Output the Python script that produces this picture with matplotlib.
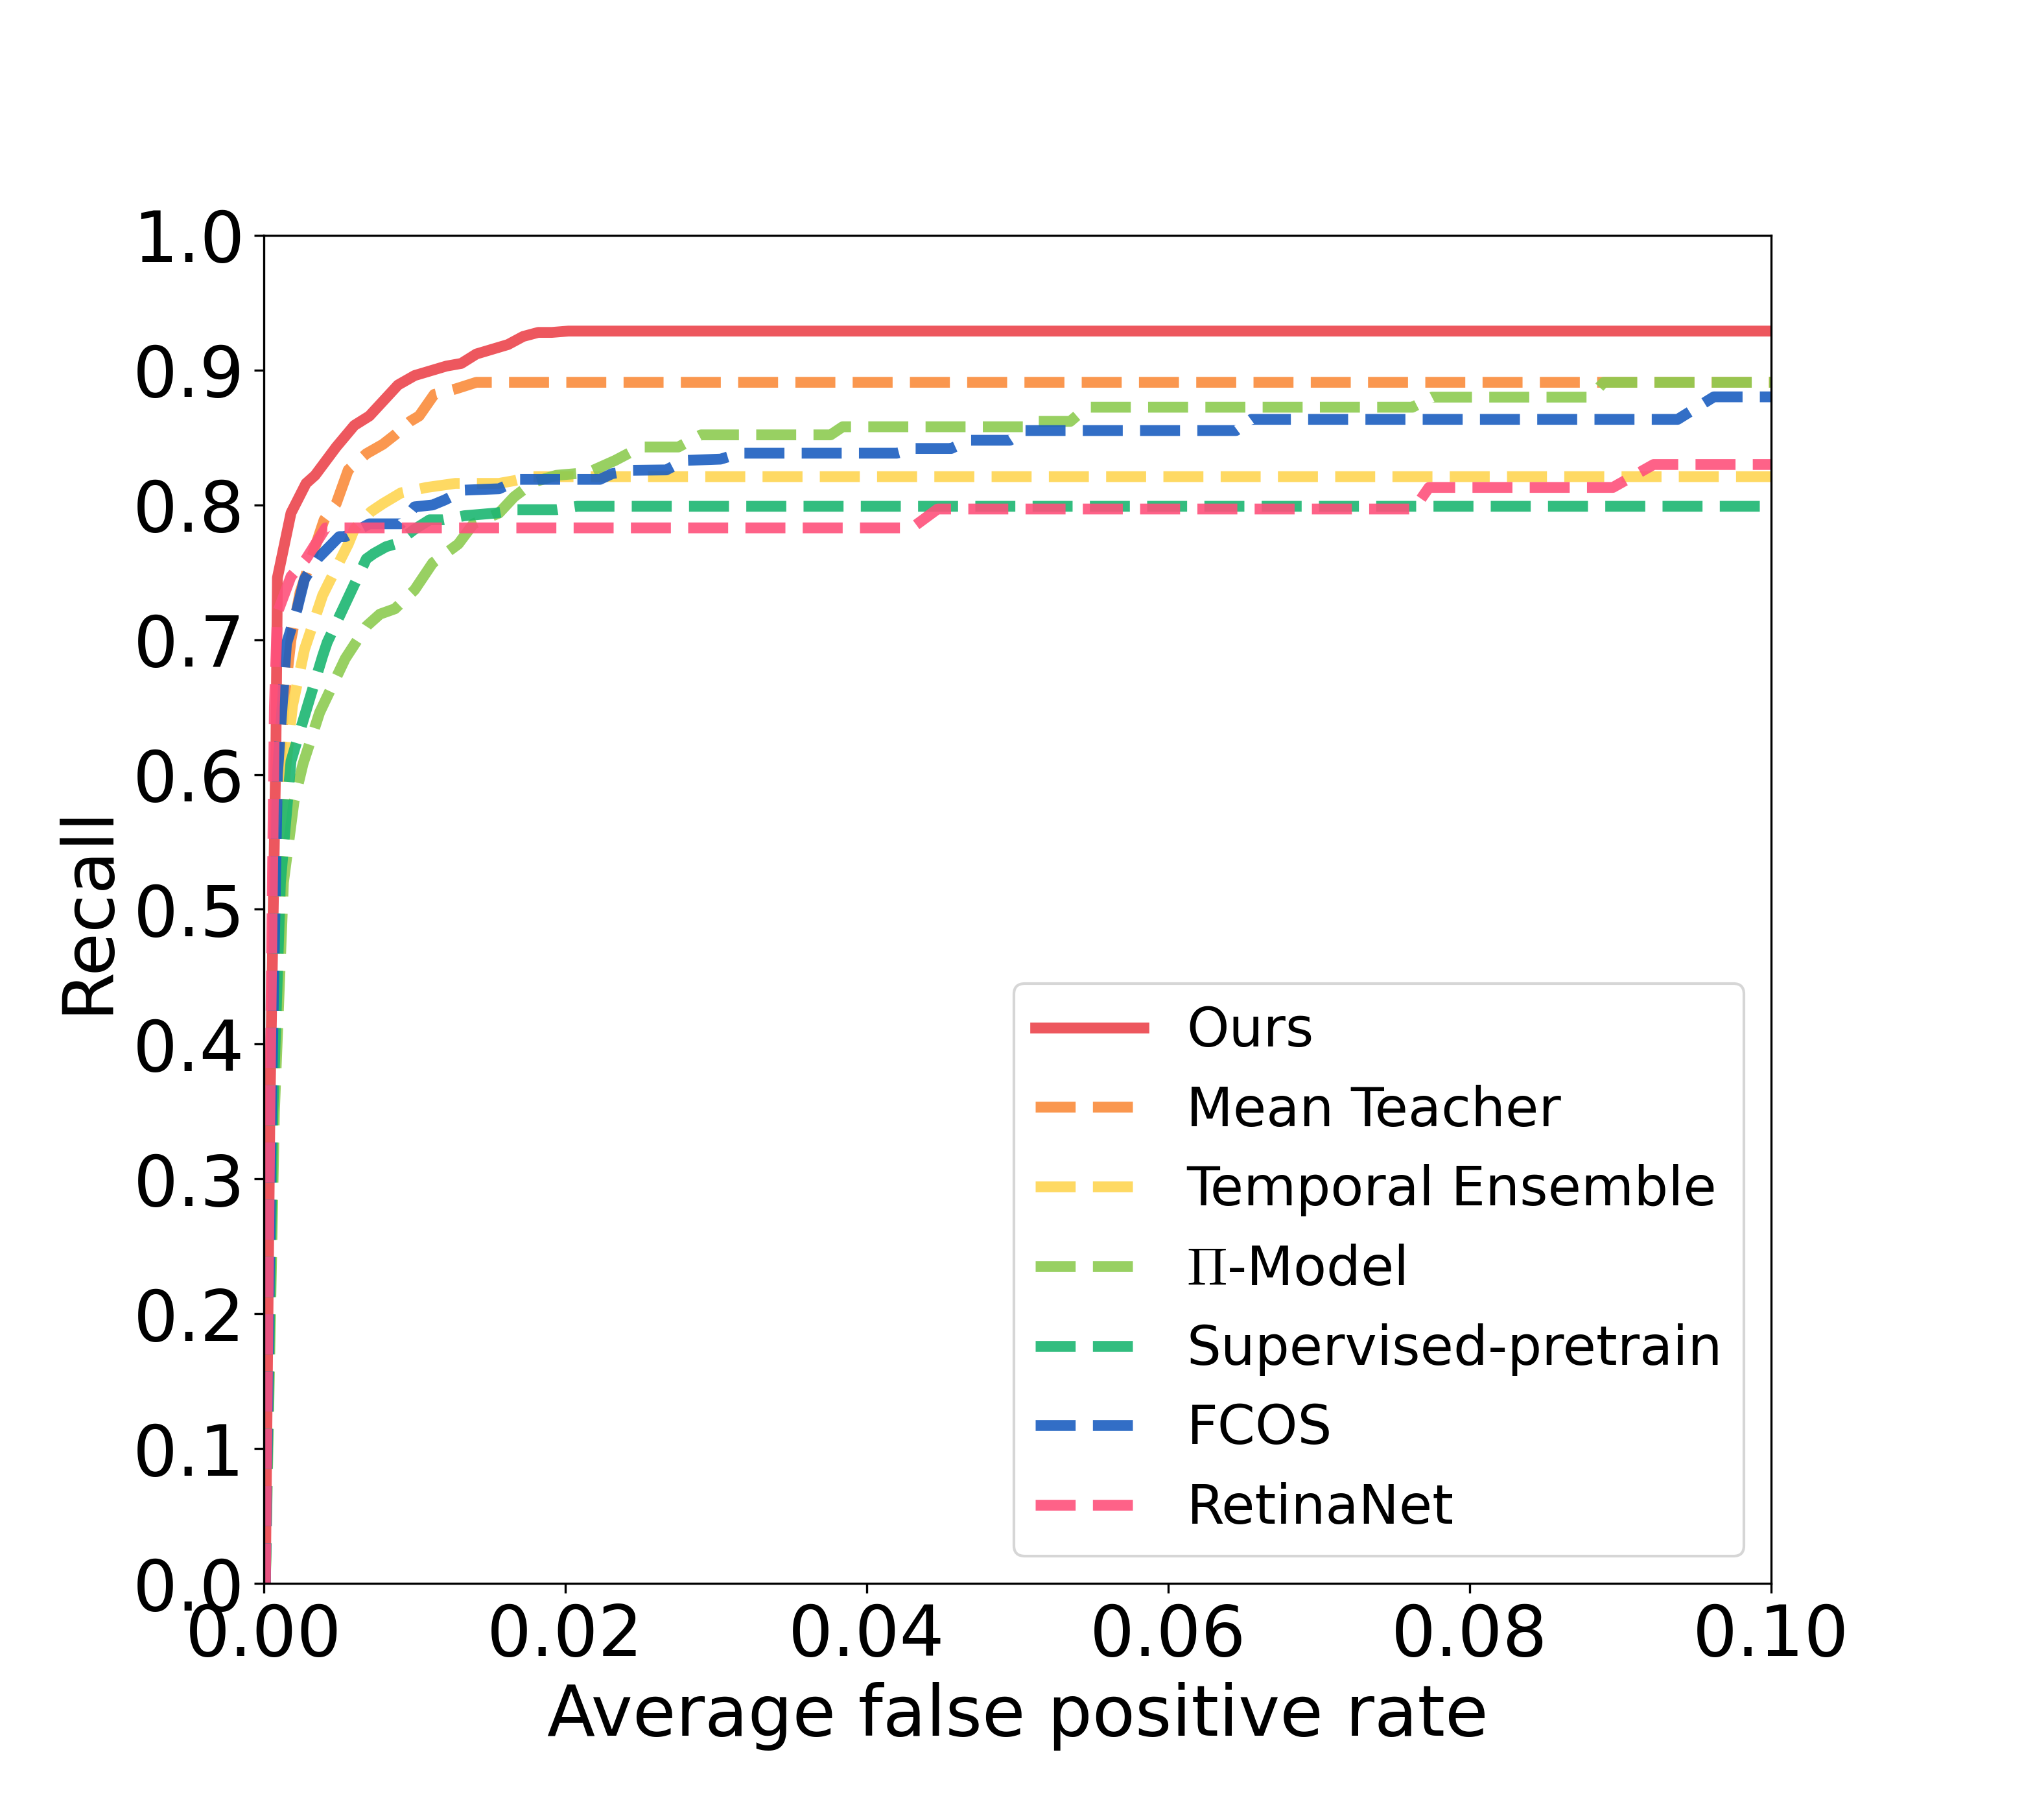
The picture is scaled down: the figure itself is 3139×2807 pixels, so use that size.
import matplotlib
matplotlib.use("Agg")
import matplotlib.pyplot as plt

plt.rcParams['mathtext.fontset'] = 'cm'
plt.rcParams['font.family'] = ['DejaVu Sans']

# ---------------- data ----------------
ours_x = [0.0001, 0.0004, 0.0008, 0.0009, 0.0018, 0.0028, 0.0034, 0.0048, 0.0060, 0.0070,
          0.0089, 0.0100, 0.0121, 0.0131, 0.0141, 0.0162, 0.0172, 0.0182, 0.0191, 0.0202, 0.1]
ours_y = [0.0, 0.35, 0.62, 0.746, 0.794, 0.816, 0.822, 0.843, 0.859, 0.866,
          0.889, 0.896, 0.903, 0.905, 0.912, 0.919, 0.925, 0.928, 0.928, 0.929, 0.929]

mt_x = [0.0001, 0.0005, 0.0010, 0.0014, 0.0018, 0.0024, 0.0037, 0.0040, 0.0048, 0.0056,
        0.0068, 0.0079, 0.0087, 0.0097, 0.0103, 0.0113, 0.0127, 0.0141, 0.1]
mt_y = [0.0, 0.35, 0.60, 0.66, 0.70, 0.735, 0.779, 0.789, 0.801, 0.826,
        0.838, 0.845, 0.852, 0.862, 0.866, 0.882, 0.886, 0.891, 0.891]

te_x = [0.0001, 0.0006, 0.0014, 0.0019, 0.0027, 0.0039, 0.0043, 0.0056, 0.0060, 0.0071,
        0.0079, 0.0091, 0.0108, 0.0127, 0.0156, 0.0166, 0.0177, 0.1]
te_y = [0.0, 0.35, 0.60, 0.651, 0.693, 0.733, 0.742, 0.771, 0.782, 0.795,
        0.801, 0.809, 0.813, 0.816, 0.816, 0.818, 0.821, 0.821]

pi_x = [0.0001, 0.0007, 0.0013, 0.0020, 0.0026, 0.0037, 0.0054, 0.0068, 0.0077, 0.0087,
        0.0100, 0.0112, 0.0129, 0.0139, 0.0156, 0.0166, 0.0179, 0.0194, 0.0215, 0.0233,
        0.0250, 0.0275, 0.0290, 0.0376, 0.0384, 0.0505, 0.0512, 0.0535, 0.0546, 0.0762,
        0.0775, 0.0880, 0.0889, 0.1]
pi_y = [0.0, 0.35, 0.52, 0.58, 0.608, 0.646, 0.686, 0.710, 0.719, 0.723,
        0.737, 0.757, 0.771, 0.786, 0.794, 0.806, 0.817, 0.822, 0.824, 0.833,
        0.843, 0.843, 0.852, 0.852, 0.858, 0.858, 0.862, 0.862, 0.8725, 0.8725,
        0.880, 0.880, 0.891, 0.891]

sp_x = [0.0001, 0.0006, 0.0011, 0.0018, 0.0029, 0.0039, 0.0042, 0.0055, 0.0068, 0.0073,
        0.0081, 0.0087, 0.0100, 0.0110, 0.0119, 0.0133, 0.0154, 0.0167, 0.0194, 0.0208, 0.1]
sp_y = [0.0, 0.35, 0.52, 0.610, 0.651, 0.688, 0.698, 0.729, 0.760, 0.764,
        0.769, 0.771, 0.782, 0.789, 0.789, 0.792, 0.794, 0.7965, 0.7965, 0.799, 0.799]

fcos_x = [0.0001, 0.0005, 0.0009, 0.0015, 0.0022, 0.0027, 0.0036, 0.0050, 0.0054, 0.0070,
          0.0091, 0.0100, 0.0112, 0.0120, 0.0133, 0.0156, 0.0170, 0.0223, 0.0231, 0.0244,
          0.0267, 0.0279, 0.0303, 0.0316, 0.0420, 0.0432, 0.0456, 0.0468, 0.0495, 0.0505,
          0.0645, 0.0655, 0.0938, 0.0962, 0.1]
fcos_y = [0.0, 0.35, 0.60, 0.697, 0.7225, 0.745, 0.7606, 0.7765, 0.7765, 0.786,
          0.786, 0.7986, 0.800, 0.8037, 0.811, 0.812, 0.819, 0.819, 0.8232, 0.8257,
          0.826, 0.833, 0.834, 0.8384, 0.8384, 0.8419, 0.8419, 0.848, 0.848, 0.8552,
          0.8552, 0.8635, 0.8635, 0.8802, 0.8802]

rn_x = [0.0001, 0.0004, 0.0007, 0.0009, 0.0018, 0.0028, 0.0041, 0.0430, 0.0447, 0.0763,
        0.0773, 0.0895, 0.0922, 0.1]
rn_y = [0.0, 0.35, 0.65, 0.72, 0.747, 0.760, 0.783, 0.783, 0.797, 0.797,
        0.813, 0.813, 0.830, 0.830]

labels = ['Ours', 'Mean Teacher', 'Temporal Ensemble', r'$\Pi$-Model',
          'Supervised-pretrain', 'FCOS', 'RetinaNet']
colors = ['#EC454C', '#FA8C3C', '#FED552', '#8DCB51', '#1CB671', '#1C5EC0', '#FE517B']
styles = ['-', '--', '--', '--', '--', '--', '--']
xticks = [0.00, 0.02, 0.04, 0.06, 0.08, 0.10]
yticks = [0.0, 0.1, 0.2, 0.3, 0.4, 0.5, 0.6, 0.7, 0.8, 0.9, 1.0]

series = [(ours_x, ours_y), (mt_x, mt_y), (te_x, te_y), (pi_x, pi_y),
          (sp_x, sp_y), (fcos_x, fcos_y), (rn_x, rn_y)]

# ---------------- plot ----------------
fig = plt.figure(figsize=(3139 / 300, 2807 / 300), dpi=300)
ax = fig.add_axes([407 / 3139, 1 - 2442 / 2807, (2732 - 407) / 3139, (2442 - 363) / 2807])

for (xs, ys), lab, col, ls in zip(series, labels, colors, styles):
    ax.plot(xs, ys, ls, color=col, lw=4, alpha=0.9, label=lab)

ax.set_xlim(0, 0.1)
ax.set_ylim(0, 1.0)
ax.set_xticks(xticks)
ax.set_xticklabels([f'{t:.2f}' for t in xticks])
ax.set_yticks(yticks)
ax.set_yticklabels([f'{t:.1f}' for t in yticks])
ax.tick_params(labelsize=26)
ax.set_xlabel('Average false positive rate', fontsize=26)
ax.set_ylabel('Recall', fontsize=26)
ax.legend(loc='lower right', fontsize=20)

fig.savefig('out.png', dpi=300)
